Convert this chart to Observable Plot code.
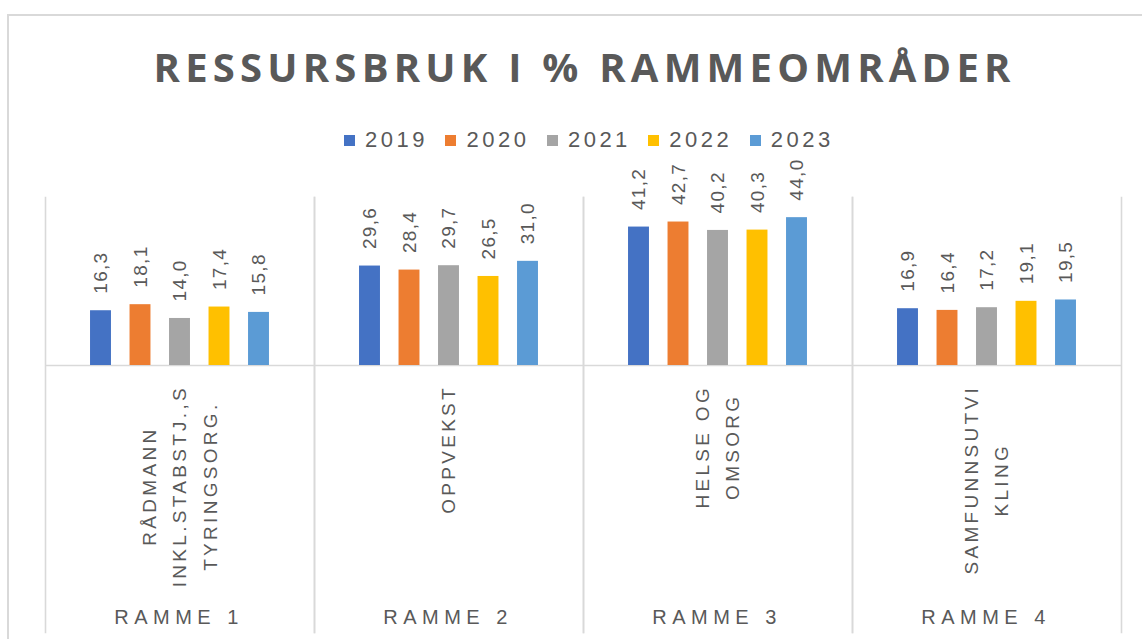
<!DOCTYPE html>
<html>
<head>
<meta charset="utf-8">
<script src="https://cdn.jsdelivr.net/npm/d3@7"></script>
<script src="https://cdn.jsdelivr.net/npm/@observablehq/plot@0.6"></script>
<style>
  html, body { margin: 0; padding: 0; background: #fff; }
  #wrap { position: relative; width: 1142px; height: 639px; overflow: hidden; background: #fff;
          font-family: "Liberation Sans", Arial, sans-serif; }
  #wrap svg { position: absolute; left: 0; top: 0; }
  #border { position: absolute; left: 7px; top: 14px; width: 1300px; height: 800px;
            border-top: 2px solid #d9d9d9; border-left: 2px solid #d9d9d9; box-sizing: border-box; }
  #title { position: absolute; left: 11px; width: 1142px; top: 46.5px; text-align: center;
           font-family: "Open Sans", sans-serif;
           font-weight: 700; font-size: 40px; line-height: 40px;
           color: #595959; white-space: nowrap; }
  #legend { position: absolute; left: 344px; top: 129px; display: flex; align-items: center; gap: 17.5px;
            font-size: 22px; line-height: 22px; color: #595959; }
  #legend .item { display: flex; align-items: center; }
  #legend .sw { width: 11px; height: 11px; margin-right: 10px; }
  #legend .lbl { letter-spacing: 3.5px; }
</style>
</head>
<body>
<div id="wrap">
  <div id="title"><span>RESSURSBRUK I % RAMMEOMRÅDER</span></div>
  <div id="legend"></div>
  <div id="border"></div>
</div>
<script>
// ---- data ----
const rammer = ["RAMME 1", "RAMME 2", "RAMME 3", "RAMME 4"];
const kategorier = ["RÅDMANN\nINKL.STABSTJ.,S\nTYRINGSORG.", "OPPVEKST", "HELSE OG\nOMSORG", "SAMFUNNSUTVI\nKLING"];
const years = ["2019", "2020", "2021", "2022", "2023"];
const colors = ["#4472C4", "#ED7D31", "#A5A5A5", "#FFC000", "#5B9BD5"];
const ramme1 = [16.3, 18.1, 14.0, 17.4, 15.8];
const ramme2 = [29.6, 28.4, 29.7, 26.5, 31.0];
const ramme3 = [41.2, 42.7, 40.2, 40.3, 44.0];
const ramme4 = [16.9, 16.4, 17.2, 19.1, 19.5];
const titleText = "RESSURSBRUK I % RAMMEOMRÅDER";

const series = [ramme1, ramme2, ramme3, ramme4];
const rows = rammer.flatMap((r, i) => years.map((y, j) => ({ramme: r, year: y, value: series[i][j]})));
// one entry per label line, with its offset from the label's centre line
const lines = rammer.flatMap((r, i) => {
  const parts = kategorier[i].split("\n");
  return parts.map((t, k) => ({ramme: r, text: t, off: k - (parts.length - 1) / 2}));
});
const offsets = [...new Set(lines.map(d => d.off))];
const fmt = v => v.toFixed(1).replace(".", ",");

// ---- legend ----
const legend = document.getElementById("legend");
years.forEach((y, i) => {
  const it = document.createElement("div");
  it.className = "item";
  const sw = document.createElement("div");
  sw.className = "sw";
  sw.style.background = colors[i];
  const lb = document.createElement("span");
  lb.className = "lbl";
  lb.textContent = y;
  it.appendChild(sw); it.appendChild(lb);
  legend.appendChild(it);
});

// ---- chart ----
const grid = "#d9d9d9";
const lineGap = 30.5;
const plot = Plot.plot({
  width: 1142, height: 639,
  marginTop: 197, marginBottom: 274, marginLeft: 44, marginRight: 20,
  style: {fontFamily: '"Liberation Sans", Arial, sans-serif', fontSize: "19px", color: "#595959", background: "transparent", overflow: "visible"},
  fx: {domain: rammer, padding: 0, label: null},
  x: {domain: years, paddingInner: 0.47, paddingOuter: 1.14, round: false, axis: null},
  y: {domain: [0, 50], axis: null},
  color: {domain: years, range: colors},
  marks: [
    Plot.frame({anchor: "left", stroke: grid, strokeWidth: 1.6, insetBottom: -267}),
    Plot.frame({anchor: "right", stroke: grid, strokeWidth: 1.6, insetBottom: -267}),
    Plot.ruleY([0], {stroke: grid, strokeWidth: 1.6}),
    Plot.barY(rows, {fx: "ramme", x: "year", y: "value", fill: "year"}),
    Plot.text(rows, {fx: "ramme", x: "year", y: "value", text: d => fmt(d.value), rotate: -90,
                     textAnchor: "start", lineAnchor: "middle", dy: -17, fill: "#595959", fontSize: 19}),
    ...offsets.map(k => Plot.text(lines.filter(d => d.off === k), {
      fx: "ramme", text: "text", frameAnchor: "bottom", lineAnchor: "middle", rotate: -90,
      dy: 118, dx: k * lineGap, fill: "#595959", fontSize: 19
    })),
    Plot.axisFx({anchor: "bottom", tickSize: 0, tickPadding: 244, fontSize: 20, label: null, fill: "#595959", dx: -1})
  ]
});
const wrap = document.getElementById("wrap");
wrap.insertBefore(plot, wrap.firstChild);

// letter spacing
const svgTop = plot.getBoundingClientRect().top;
const byRamme = new Map();
plot.querySelectorAll("text").forEach(t => {
  const s = t.textContent;
  if (/^\d+,\d$/.test(s)) t.style.letterSpacing = "1.3px";
  else if (/^RAMME/.test(s)) t.style.letterSpacing = "5.5px";
  else {
    const line = lines.find(d => d.text === s);
    if (line) {
      t.style.letterSpacing = "3.3px";
      if (!byRamme.has(line.ramme)) byRamme.set(line.ramme, []);
      byRamme.get(line.ramme).push(t);
    }
  }
});
// top-align each category label block, lines centred within the block
byRamme.forEach(ts => {
  const top = Math.min(...ts.map(t => t.getBoundingClientRect().top));
  const delta = (svgTop + 385) - top;
  ts.forEach(t => {
    const tr = t.getAttribute("transform") || "";
    t.setAttribute("transform", `translate(0,${delta}) ${tr}`);
  });
});

// title spacing to match width
const span = document.querySelector("#title span");
const w = span.getBoundingClientRect().width;
const n = titleText.length;
const ls = (857 - w) / (n - 1);
span.style.letterSpacing = ls + "px";
span.style.marginRight = (-ls) + "px";
</script>
</body>
</html>
